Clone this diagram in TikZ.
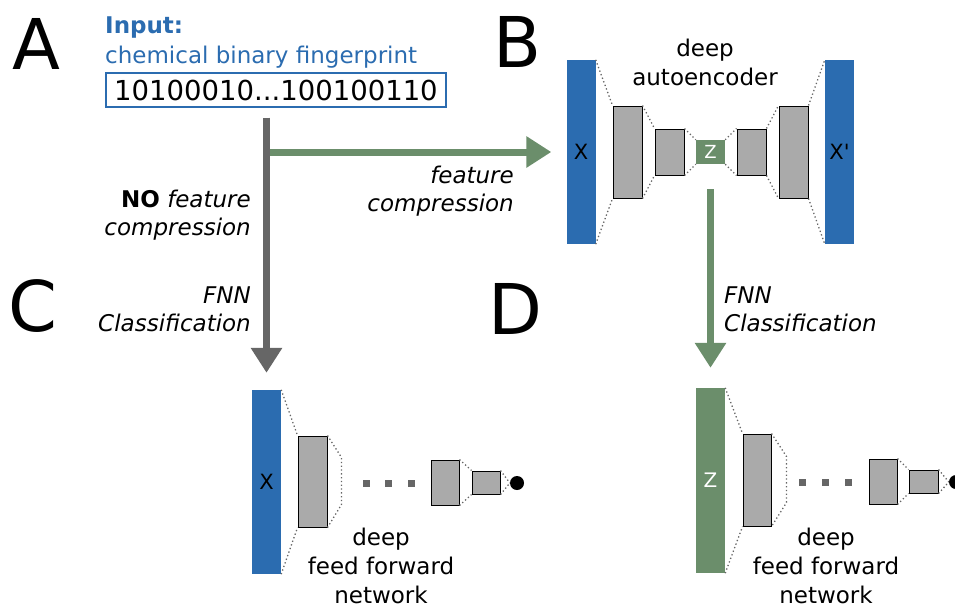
\documentclass[tikz,border=0pt]{standalone}
\usepackage{fontspec}
\setmainfont{DejaVu Sans}
\usetikzlibrary{arrows.meta}
\definecolor{inblue}{RGB}{43,108,176}
\definecolor{fgreen}{RGB}{107,142,107}
\definecolor{layergray}{RGB}{170,170,170}
\definecolor{arrowgray}{RGB}{102,102,102}
\begin{document}
\begin{tikzpicture}[x=1pt, y=-1pt,
    letter/.style={inner sep=0, anchor=base west, font=\fontsize{70}{84}\selectfont},
    txt/.style={inner sep=0, align=center, font=\fontsize{23}{29}\selectfont},
    itxt/.style={inner sep=0, font=\fontsize{23}{28}\selectfont\itshape},
    bar/.style={inner sep=0, minimum width=29pt, minimum height=184pt, font=\fontsize{21}{25}\selectfont},
    layer/.style={draw, fill=layergray, line width=1pt, inner sep=0, minimum width=29pt},
    sqdot/.style={fill=arrowgray, inner sep=0, minimum size=7pt},
    outdot/.style={circle, fill=black, inner sep=0, minimum size=14pt},
    conn/.style={draw=black!60, line width=1.3pt, dash pattern=on 1.3pt off 2.5pt},
    bigarrow/.style={line width=7pt, -{Triangle[length=25pt, width=30pt]}}]
    \useasboundingbox (0,0) rectangle (955,608);

    % panel letters
    \node[letter] (lA) at (12,69) {A};
    \node[letter] (lB) at (493,67) {B};
    \node[letter] (lC) at (8,331) {C};
    \node[letter] (lD) at (488,334) {D};

    % input fingerprint
    \node[txt, anchor=base west, text=inblue, font=\fontsize{23}{29}\selectfont\bfseries] (inhead) at (105,33) {Input:};
    \node[txt, anchor=base west, text=inblue] (insub) at (105,63) {chemical binary fingerprint};
    \node[draw=inblue, line width=1.2pt, minimum width=340pt, minimum height=34pt, inner sep=0,
        font=\fontsize{27.5}{33}\selectfont] (fp) at (276,90) {10100010...100100110};

    % B: autoencoder
    \node[bar, fill=inblue] (xB) at (581,152) {X};
    \node[layer, minimum height=92pt] (eB1) at (627.5,152) {};
    \node[layer, minimum height=46pt] (eB2) at (669.5,152) {};
    \node[bar, fill=fgreen, minimum height=24pt, text=white, font=\fontsize{18}{21}\selectfont] (zB) at (710.5,152) {Z};
    \node[layer, minimum height=46pt] (dB2) at (751.5,152) {};
    \node[layer, minimum height=92pt] (dB1) at (793.5,152) {};
    \node[bar, fill=inblue] (xpB) at (839.5,152) {X\textquotesingle};
    \node[txt] (aeB) at (705,62.5) {deep\\autoencoder};

    \foreach \a/\b in {xB/eB1, eB1/eB2, eB2/zB, zB/dB2, dB2/dB1, dB1/xpB} {
        \draw[conn] (\a.north east) -- (\b.north west);
        \draw[conn] (\a.south east) -- (\b.south west);
    }

    % C: classifier on X
    \node[bar, fill=inblue] (xC) at (266.5,482) {X};
    \node[layer, minimum height=91pt] (hC1) at (312.5,481.5) {};
    \foreach \x [count=\i] in {366,388,411}
        \node[sqdot] (dC\i) at (\x,483) {};
    \node[layer, minimum height=45pt, minimum width=28pt] (hC2) at (445,482.5) {};
    \node[layer, minimum height=23pt, minimum width=28pt] (hC3) at (486,482.5) {};
    \node[outdot] (outC) at (517,483) {};
    \node[txt] (nnC) at (381,566) {deep\\feed forward\\network};

    \draw[conn] (xC.north east) -- (hC1.north west);
    \draw[conn] (xC.south east) -- (hC1.south west);
    \draw[conn] (hC1.north east) -- ++(14,22) -- ++(0,47) -- (hC1.south east);
    \draw[conn] (hC2.north east) -- (hC3.north west);
    \draw[conn] (hC2.south east) -- (hC3.south west);
    \draw[conn] (hC3.north east) -- (outC.west);
    \draw[conn] (hC3.south east) -- (outC.west);

    % D: classifier on Z
    \node[bar, fill=fgreen, text=white, minimum height=185pt, font=\fontsize{20}{24}\selectfont] (zD) at (710.5,480.5) {Z};
    \node[layer, minimum height=92pt, minimum width=28pt] (hD1) at (757,480) {};
    \foreach \x [count=\i] in {802,825,848}
        \node[sqdot] (dD\i) at (\x,482) {};
    \node[layer, minimum height=45pt, minimum width=28pt] (hD2) at (883,481.5) {};
    \node[layer, minimum height=23pt] (hD3) at (923.5,481.5) {};
    \node[outdot] (outD) at (956,482) {};
    \node[txt] (nnD) at (826,566) {deep\\feed forward\\network};

    \draw[conn] (zD.north east) -- (hD1.north west);
    \draw[conn] (zD.south east) -- (hD1.south west);
    \draw[conn] (hD1.north east) -- ++(15,23) -- ++(0,46) -- (hD1.south east);
    \draw[conn] (hD2.north east) -- (hD3.north west);
    \draw[conn] (hD2.south east) -- (hD3.south west);
    \draw[conn] (hD3.north east) -- (outD.west);
    \draw[conn] (hD3.south east) -- (outD.west);

    % arrows
    \coordinate (fptop) at ([yshift=-10pt]fp.south);
    \coordinate (split) at (xC.north |- xB.west);
    \draw[bigarrow, fgreen] (split) -- ([xshift=-15pt]xB.west);
    \draw[bigarrow, arrowgray] (fptop -| xC.north) -- ([yshift=17pt]xC.north);
    \draw[bigarrow, fgreen] ([yshift=-25pt]zB.south) -- ([yshift=20pt]zD.north);

    % arrow labels
    \node[itxt, anchor=east, align=right] (noC) at (251,215) {\textbf{\upshape NO} feature\\compression};
    \node[itxt, anchor=east, align=right] (clsC) at (251,309) {FNN\\Classification};
    \node[itxt, anchor=east, align=right] (fcB) at (514,191) {feature\\compression};
    \node[itxt, anchor=west, align=left] (clsD) at (724,309) {FNN\\Classification};
\end{tikzpicture}
\end{document}
